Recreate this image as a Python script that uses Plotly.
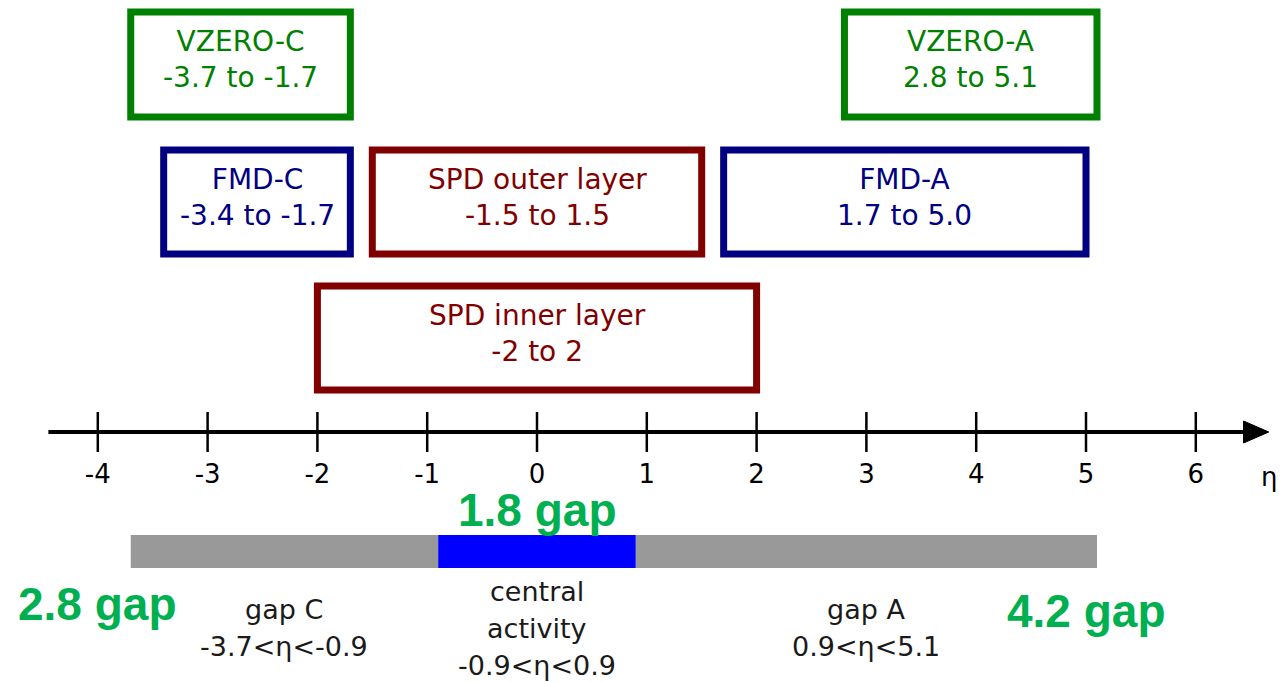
import plotly.graph_objects as go

# ---------------- data ----------------
det_names = ["VZERO-C", "VZERO-A", "FMD-C", "SPD outer layer", "FMD-A", "SPD inner layer"]
det_eta_min = [-3.7, 2.8, -3.4, -1.5, 1.7, -2.0]
det_eta_max = [-1.7, 5.1, -1.7, 1.5, 5.0, 2.0]
det_range_labels = ["-3.7 to -1.7", "2.8 to 5.1", "-3.4 to -1.7", "-1.5 to 1.5", "1.7 to 5.0", "-2 to 2"]
det_rows = [0, 0, 1, 1, 1, 2]
det_colors = ["#008000", "#008000", "#000080", "#800000", "#000080", "#800000"]

tick_values = [-4, -3, -2, -1, 0, 1, 2, 3, 4, 5, 6]
tick_labels = ["-4", "-3", "-2", "-1", "0", "1", "2", "3", "4", "5", "6"]

gap_names = [["gap C"], ["central", "activity"], ["gap A"]]
gap_eta_min = [-3.7, -0.9, 0.9]
gap_eta_max = [-0.9, 0.9, 5.1]
gap_range_labels = ["-3.7<η<-0.9", "-0.9<η<0.9", "0.9<η<5.1"]
gap_colors = ["#999999", "#0000FF", "#999999"]

gap_size_labels = ["2.8 gap", "1.8 gap", "4.2 gap"]
gap_size_x = [-4.0, 0.0, 5.0]

# ---------------- layout constants (pixel-like y units) ----------------
W, H = 1282, 682
PX_PER_ETA = 109.8
ETA0_PX = 537
x_lo = -ETA0_PX / PX_PER_ETA
x_hi = (W - ETA0_PX) / PX_PER_ETA

row_y = [(12, 117), (150, 254), (286, 390)]
AXIS_Y = 432
AXIS_START, AXIS_TIP = -4.45, 6.665
BAR_Y = (535, 568)
LABEL_CENTER_Y = 628
LABEL_LINE_STEP = 37

fig = go.Figure()
shapes = []
annotations = []

# detector boxes
for name, lo, hi, rl, row, col in zip(det_names, det_eta_min, det_eta_max,
                                      det_range_labels, det_rows, det_colors):
    y0, y1 = row_y[row]
    shapes.append(dict(type="rect", xref="x", yref="y", x0=lo, x1=hi, y0=y0, y1=y1,
                       line=dict(color=col, width=7), fillcolor="rgba(0,0,0,0)"))
    annotations.append(dict(x=(lo + hi) / 2, y=(y0 + y1) / 2 - 5, xref="x", yref="y",
                            text=f"{name}<br>{rl}", showarrow=False,
                            font=dict(family="DejaVu Sans", size=28, color=col),
                            xanchor="center", yanchor="middle"))

# axis line
fig.add_trace(go.Scatter(x=[AXIS_START, AXIS_TIP - 0.15], y=[AXIS_Y, AXIS_Y], mode="lines",
                         line=dict(color="black", width=4), hoverinfo="skip", showlegend=False))
# arrow head
fig.add_trace(go.Scatter(x=[AXIS_TIP - 0.23, AXIS_TIP, AXIS_TIP - 0.23, AXIS_TIP - 0.23],
                         y=[AXIS_Y - 11, AXIS_Y, AXIS_Y + 11, AXIS_Y - 11],
                         mode="lines", fill="toself", fillcolor="black",
                         line=dict(color="black", width=1), hoverinfo="skip", showlegend=False))
# tick marks
tx, ty = [], []
for t in tick_values:
    tx += [t, t, None]
    ty += [AXIS_Y - 20, AXIS_Y + 20, None]
fig.add_trace(go.Scatter(x=tx, y=ty, mode="lines", line=dict(color="black", width=2.5),
                         hoverinfo="skip", showlegend=False))
# tick labels
fig.add_trace(go.Scatter(x=tick_values, y=[AXIS_Y + 44] * len(tick_values), mode="text",
                         text=tick_labels, textposition="middle center",
                         textfont=dict(family="DejaVu Sans", size=26, color="black"),
                         hoverinfo="skip", showlegend=False))
annotations.append(dict(x=AXIS_TIP, y=AXIS_Y + 45, xref="x", yref="y", text="η",
                        showarrow=False, font=dict(family="DejaVu Sans", size=26, color="black"),
                        xanchor="center", yanchor="middle"))

# gap bar
for lo, hi, col in zip(gap_eta_min, gap_eta_max, gap_colors):
    shapes.append(dict(type="rect", xref="x", yref="y", x0=lo, x1=hi, y0=BAR_Y[0], y1=BAR_Y[1],
                       line=dict(width=0), fillcolor=col, layer="below"))

# gap labels (one annotation per line for exact spacing)
for name_lines, lo, hi, rl in zip(gap_names, gap_eta_min, gap_eta_max, gap_range_labels):
    lines = name_lines + [rl]
    n = len(lines)
    for i, ln in enumerate(lines):
        yy = LABEL_CENTER_Y + (i - (n - 1) / 2) * LABEL_LINE_STEP
        annotations.append(dict(x=(lo + hi) / 2, y=yy, xref="x", yref="y",
                                text=ln, showarrow=False,
                                font=dict(family="DejaVu Sans", size=27, color="#1a1a1a"),
                                xanchor="center", yanchor="middle"))

# green gap size labels
gap_size_y = [604, 510, 611]
for lab, gx, gy in zip(gap_size_labels, gap_size_x, gap_size_y):
    annotations.append(dict(x=gx, y=gy, xref="x", yref="y", text=f"<b>{lab}</b>",
                            showarrow=False,
                            font=dict(family="Liberation Sans", size=46, color="#00B050"),
                            xanchor="center", yanchor="middle"))

fig.update_layout(
    width=W, height=H,
    margin=dict(l=0, r=0, t=0, b=0, pad=0),
    paper_bgcolor="white", plot_bgcolor="white",
    xaxis=dict(range=[x_lo, x_hi], visible=False, fixedrange=True),
    yaxis=dict(range=[H, 0], visible=False, fixedrange=True),
    shapes=shapes, annotations=annotations,
    showlegend=False,
)

fig.write_html("out.html")
